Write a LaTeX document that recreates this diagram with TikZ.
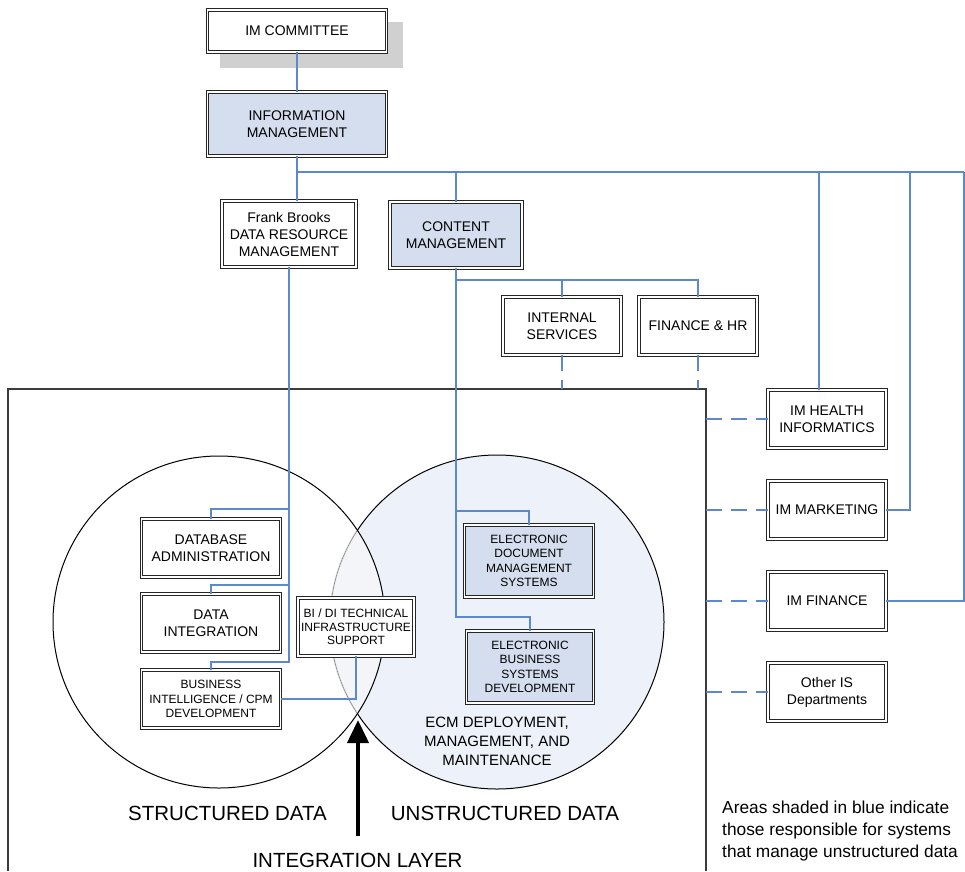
\documentclass[tikz,border=0pt]{standalone}
\usepackage{fontspec}
\setmainfont{Liberation Sans}
\usepackage{tikz}
\usetikzlibrary{arrows.meta,calc}
\definecolor{linkblue}{HTML}{5B89CC}
\definecolor{boxblue}{HTML}{D4DEEE}
\definecolor{ecmblue}{HTML}{EDF1F9}
\definecolor{overlap}{HTML}{F4F5F9}
\definecolor{boxline}{HTML}{262626}
\definecolor{frameline}{HTML}{3C3C3C}
\definecolor{shadowgray}{HTML}{D0D0D0}

\begin{document}
\begin{tikzpicture}[x=1pt, y=-1pt, >=Stealth,
    orgbox/.style={draw=boxline, line width=0.9pt, double=white, double distance=1.5pt,
        fill=white, align=center, inner sep=0pt, outer sep=0pt, font=\fontsize{14}{17}\selectfont},
    shaded/.style={orgbox, fill=boxblue},
    smalltext/.style={font=\fontsize{12}{14.5}\selectfont},
    link/.style={draw=linkblue, line width=1.6pt},
    dashlink/.style={link, line width=1.9pt, dash pattern=on 16pt off 9pt},
    bigtext/.style={font=\fontsize{20.5}{25}\selectfont}]
    \useasboundingbox (0,0) rectangle (965,871);

    % Outer frame
    \coordinate (frameNE) at (706,389);
    \draw[frameline, line width=1.3pt] (8,871) -- (8,389) -- (frameNE) -- (706,871);

    % Venn circles
    \coordinate (sc) at (219,622);
    \coordinate (uc) at (497,622);
    \fill[ecmblue] (uc) circle (167pt);
    \begin{scope}
        \clip (sc) circle (166pt);
        \fill[overlap] (uc) circle (167pt);
    \end{scope}
    \draw[black, line width=1pt] (uc) circle (167pt);
    \begin{scope}
        \clip (sc) circle (166pt);
        \draw[overlap, line width=1.9pt] (uc) circle (167pt);
        \draw[black!45, line width=0.7pt] (uc) circle (167pt);
    \end{scope}
    \draw[black, line width=1pt] (sc) circle (166pt);

    % Top of the chart
    \fill[shadowgray] (220,22) rectangle (403,68);
    \node[orgbox, minimum width=179pt, minimum height=42pt] (imc) at (297,31) {IM COMMITTEE};
    \node[shaded, minimum width=179pt, minimum height=64pt] (infm) at (297,124) {INFORMATION\\MANAGEMENT};
    \node[orgbox, minimum width=134pt, minimum height=66pt] (drm) at (289,234) {Frank Brooks\\DATA RESOURCE\\MANAGEMENT};
    \node[shaded, minimum width=132pt, minimum height=66pt] (cm) at (456,235) {CONTENT\\MANAGEMENT};
    \node[orgbox, minimum width=118pt, minimum height=58pt] (isv) at (562,326) {INTERNAL\\SERVICES};
    \node[orgbox, minimum width=118pt, minimum height=58pt] (fhr) at (698,326) {FINANCE \& HR};

    % IM groups on the right
    \node[orgbox, minimum width=118pt, minimum height=58pt] (health) at (827,419) {IM HEALTH\\INFORMATICS};
    \node[orgbox, minimum width=118pt, minimum height=58pt] (mkt) at (827,510) {IM MARKETING};
    \node[orgbox, minimum width=118pt, minimum height=58pt] (fin) at (827,601) {IM FINANCE};
    \node[orgbox, minimum width=118pt, minimum height=58pt] (other) at (827,692) {Other IS\\Departments};

    % Structured data side
    \node[orgbox, minimum width=139pt, minimum height=58pt] (dba) at (211,548) {DATABASE\\ADMINISTRATION};
    \node[orgbox, minimum width=139pt, minimum height=58pt] (dint) at (211,623) {DATA\\INTEGRATION};
    \node[orgbox, smalltext, minimum width=139pt, minimum height=58pt] (bicpm) at (211,699) {BUSINESS\\INTELLIGENCE / CPM\\DEVELOPMENT};
    \node[orgbox, font=\fontsize{12}{13.5}\selectfont, minimum width=116pt, minimum height=58pt] (bidi) at (356,627) {BI / DI TECHNICAL\\INFRASTRUCTURE\\SUPPORT};

    % Unstructured data side
    \node[shaded, smalltext, minimum width=129pt, minimum height=72pt] (edms) at (529,561) {ELECTRONIC\\DOCUMENT\\MANAGEMENT\\SYSTEMS};
    \node[shaded, smalltext, minimum width=127pt, minimum height=72pt] (ebsd) at (530,667) {ELECTRONIC\\BUSINESS\\SYSTEMS\\DEVELOPMENT};

    % Reporting lines
    \coordinate (busE) at (964,172);
    \coordinate (hbr) at (819,172);
    \coordinate (mbr) at (910,172);
    \draw[link] (imc.south) -- (infm.north);
    \draw[link] (infm.south) -- (infm.south |- busE) -- (busE);
    \draw[link] (infm.south |- busE) -- (infm.south |- drm.north);
    \draw[link] (cm.north |- busE) -- (cm.north);
    \draw[link] (hbr) -- (hbr |- health.north);
    \draw[link] (mbr) |- (mkt.east);
    \draw[link] (busE) |- (fin.east);

    \draw[link] (drm.south) |- ([yshift=10pt]dba.north) -- (dba.north);
    \draw[link] (drm.south) |- ([yshift=9pt]dint.north) -- (dint.north);
    \draw[link] (drm.south) |- ([yshift=8pt]bicpm.north) -- (bicpm.north);
    \draw[link] (bicpm.east) -| (bidi.south);

    \draw[link] (cm.south) |- ([yshift=17pt]fhr.north) -- (fhr.north);
    \draw[link] ([yshift=17pt]isv.north) -- (isv.north);
    \draw[link] (cm.south) |- ([yshift=14pt]edms.north) -- (edms.north);
    \draw[link] (cm.south) |- ([yshift=14pt]ebsd.north) -- (ebsd.north);

    % Dotted-line relationships
    \draw[dashlink] (isv.south) -- (isv.south |- frameNE);
    \draw[dashlink] (fhr.south) -- (fhr.south |- frameNE);
    \foreach \g in {health, mkt, fin, other}
        \draw[dashlink] (\g.west -| frameNE) -- (\g.west);

    % Integration layer arrow
    \coordinate (arrS) at (358,836);
    \coordinate (arrT) at (358,720);
    \draw[line width=4pt, -{Triangle[length=23pt, width=21pt]}] (arrS) -- (arrT);

    % Labels
    \node[align=center, font=\fontsize{15}{19}\selectfont] (ecm) at (497,741) {ECM DEPLOYMENT,\\MANAGEMENT, AND\\MAINTENANCE};
    \node[bigtext] (strd) at (227.5,813.5) {STRUCTURED DATA};
    \node[bigtext] (unstr) at (505,813.5) {UNSTRUCTURED DATA};
    \node[bigtext] (intl) at (357.5,860) {INTEGRATION LAYER};
    \node[align=left, anchor=west, inner sep=0pt, font=\fontsize{17.3}{22}\selectfont] (legend) at (722,831) {Areas shaded in blue indicate\\those responsible for systems\\that manage unstructured data};
\end{tikzpicture}
\end{document}
